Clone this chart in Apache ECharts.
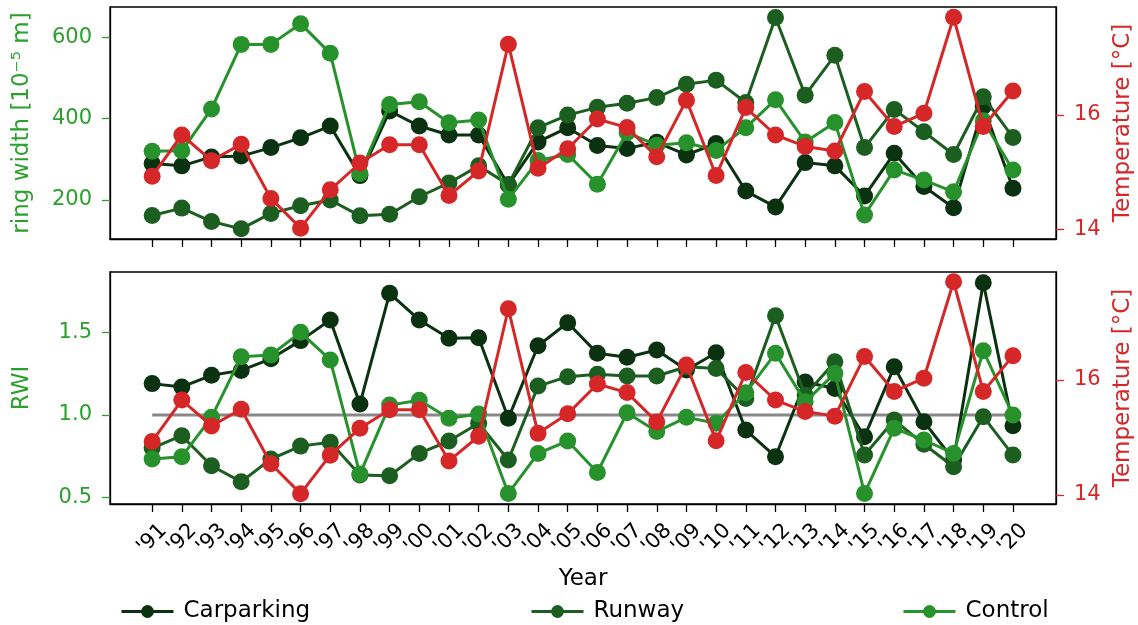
<!DOCTYPE html>
<html>
<head>
<meta charset="utf-8">
<script src="https://cdn.jsdelivr.net/npm/echarts@6/dist/echarts.min.js"></script>
<style>
html, body { margin: 0; padding: 0; background: #fff; }
#chart { width: 1138px; height: 625px; }
</style>
</head>
<body>
<div id="chart"></div>
<script>
const years = ["'91", "'92", "'93", "'94", "'95", "'96", "'97", "'98", "'99", "'00",
    "'01", "'02", "'03", "'04", "'05", "'06", "'07", "'08", "'09", "'10",
    "'11", "'12", "'13", "'14", "'15", "'16", "'17", "'18", "'19", "'20"];

// ring width [10^-5 m]
const rw_carparking = [290, 284, 306, 308, 329, 353, 382, 260, 419, 382, 360, 360, 237, 343, 378, 334, 327, 342, 311, 339, 222, 183, 292, 284, 210, 315, 233, 181, 431, 229];
const rw_runway = [162, 180, 147, 129, 167, 186, 200, 161, 165, 208, 242, 284, 238, 378, 409, 428, 438, 452, 485, 495, 440, 649, 458, 556, 329, 423, 368, 312, 454, 354];
const rw_control = [320, 321, 424, 583, 583, 634, 561, 265, 435, 442, 390, 397, 202, 297, 312, 239, 366, 335, 341, 322, 378, 447, 343, 391, 163, 274, 249, 220, 395, 274];

// RWI
const rwi_carparking = [1.19, 1.17, 1.24, 1.27, 1.34, 1.45, 1.575, 1.067, 1.736, 1.575, 1.464, 1.468, 0.98, 1.419, 1.558, 1.373, 1.349, 1.393, 1.272, 1.377, 0.909, 0.748, 1.2, 1.161, 0.869, 1.292, 0.96, 0.728, 1.8, 0.935];
const rwi_runway = [0.8, 0.875, 0.693, 0.596, 0.734, 0.812, 0.835, 0.637, 0.633, 0.768, 0.843, 0.95, 0.728, 1.175, 1.232, 1.246, 1.236, 1.236, 1.292, 1.282, 1.1, 1.6, 1.12, 1.322, 0.758, 0.97, 0.823, 0.687, 0.99, 0.758];
const rwi_control = [0.734, 0.748, 0.986, 1.353, 1.363, 1.5, 1.333, 0.643, 1.06, 1.09, 0.98, 1.006, 0.526, 0.768, 0.843, 0.653, 1.014, 0.9, 0.986, 0.95, 1.135, 1.373, 1.08, 1.252, 0.526, 0.92, 0.849, 0.768, 1.389, 1.0];

// Temperature [°C]
const temperature = [14.93, 15.65, 15.2, 15.49, 14.54, 14.02, 14.69, 15.16, 15.48, 15.48, 14.59, 15.02, 17.24, 15.07, 15.41, 15.93, 15.78, 15.27, 16.26, 14.94, 16.13, 15.65, 15.45, 15.37, 16.41, 15.8, 16.03, 17.71, 15.8, 16.42];

const c_car = "#0b3210";
const c_run = "#1b5e20";
const c_con = "#27922c";
const c_red = "#d62728";
const c_lbl = "#2ca02c";
const font = "DejaVu Sans";

const idx = years.map((y, i) => i);
const pts = (arr) => arr.map((v, i) => [i, v]);

let chart = echarts.init(document.getElementById("chart"));

function xAxis(gridIndex, labels) {
    return {
        type: "value",
        gridIndex: gridIndex,
        min: -1.42,
        max: 30.45,
        splitLine: { show: false },
        axisLine: { show: true, onZero: false, lineStyle: { color: "#000", width: 1.3 } },
        axisTick: { show: true, customValues: idx, length: 8, lineStyle: { color: "#000", width: 1.3 } },
        axisLabel: {
            show: labels,
            customValues: idx,
            rotate: 45,
            align: "center",
            verticalAlign: "middle",
            margin: 35,
            fontSize: 21,
            fontFamily: font,
            color: "#000",
            formatter: (v) => years[Math.round(v)],
        },
        name: labels ? "Year" : "",
        nameLocation: "middle",
        nameGap: 64,
        nameTextStyle: { fontSize: 23, fontFamily: font, color: "#000" },
    };
}

function yAxis(gridIndex, pos, min, max, ticks, name, color, gap, fmt) {
    return {
        type: "value",
        gridIndex: gridIndex,
        position: pos,
        min: min,
        max: max,
        splitLine: { show: false },
        axisLine: { show: true, onZero: false, lineStyle: { color: "#000", width: 1.3 } },
        axisTick: { show: true, customValues: ticks, length: 8, lineStyle: { color: color, width: 1.3 } },
        axisLabel: {
            customValues: ticks,
            fontSize: 21,
            fontFamily: font,
            color: color,
            margin: 18,
            formatter: fmt,
        },
        name: name,
        nameLocation: "middle",
        nameRotate: 90,
        nameGap: gap,
        nameTextStyle: { fontSize: 23, fontFamily: font, color: color },
    };
}

function line(name, data, color, xi, yi, z) {
    return {
        name: name,
        type: "line",
        xAxisIndex: xi,
        yAxisIndex: yi,
        data: pts(data),
        symbol: "circle",
        symbolSize: 17,
        itemStyle: { color: color },
        lineStyle: { color: color, width: 3 },
        z: z,
        animation: false,
    };
}

function legend(name, left) {
    return {
        data: [name],
        left: left,
        top: 595,
        itemWidth: 52,
        itemHeight: 16,
        lineStyle: { width: 3 },
        textStyle: { fontSize: 23, fontFamily: font, color: "#000", padding: [0, 0, 0, 5] },
    };
}

chart.setOption({
    animation: false,
    grid: [
        { left: 110, right: 82, top: 7, height: 232, show: true, borderColor: "#000", borderWidth: 1.3, outerBoundsMode: "none" },
        { left: 110, right: 82, top: 272, height: 232, show: true, borderColor: "#000", borderWidth: 1.3, outerBoundsMode: "none" },
    ],
    xAxis: [xAxis(0, false), xAxis(1, true)],
    yAxis: [
        yAxis(0, "left", 104, 675, [200, 400, 600], "ring width [10⁻⁵ m]", c_lbl, 76, (v) => v),
        yAxis(0, "right", 13.83, 17.89, [14, 16], "Temperature [°C]", c_red, 56, (v) => v),
        yAxis(1, "left", 0.462, 1.865, [0.5, 1.0, 1.5], "RWI", c_lbl, 76, (v) => v.toFixed(1)),
        yAxis(1, "right", 13.84, 17.88, [14, 16], "Temperature [°C]", c_red, 56, (v) => v),
    ],
    legend: [legend("Carparking", 115), legend("Runway", 525), legend("Control", 897)],
    series: [
        line("Carparking", rw_carparking, c_car, 0, 0, 3),
        line("Runway", rw_runway, c_run, 0, 0, 4),
        line("Control", rw_control, c_con, 0, 0, 5),
        line("Temperature", temperature, c_red, 0, 1, 6),
        {
            type: "line",
            xAxisIndex: 1,
            yAxisIndex: 2,
            data: [[0, 1], [29, 1]],
            symbol: "none",
            lineStyle: { color: "#888", width: 3 },
            z: 2,
            silent: true,
        },
        line("Carparking", rwi_carparking, c_car, 1, 2, 3),
        line("Runway", rwi_runway, c_run, 1, 2, 4),
        line("Control", rwi_control, c_con, 1, 2, 5),
        line("Temperature", temperature, c_red, 1, 3, 6),
    ],
});
</script>
</body>
</html>
